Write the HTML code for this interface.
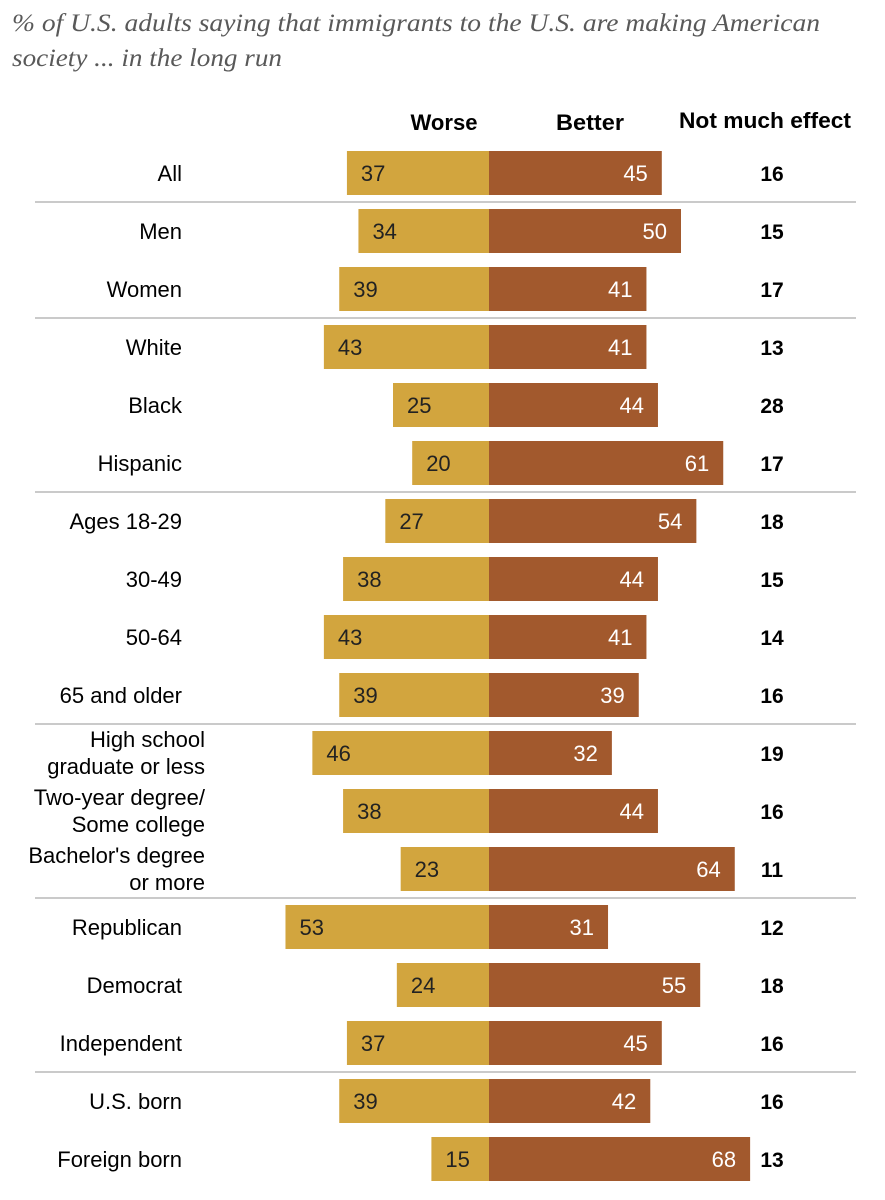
<!DOCTYPE html>
<html><head><meta charset="utf-8">
<style>
body{margin:0;background:#fff;}
svg{display:block;font-family:"Liberation Sans",Arial,sans-serif;}
</style></head>
<body>
<svg width="885" height="1200" viewBox="0 0 885 1200">
<text x="12" y="31" font-family="Liberation Serif,serif" font-style="italic" font-size="25" fill="#595959" textLength="808" lengthAdjust="spacingAndGlyphs">% of U.S. adults saying that immigrants to the U.S. are making American</text>
<text x="12" y="66" font-family="Liberation Serif,serif" font-style="italic" font-size="25" fill="#595959" textLength="270" lengthAdjust="spacingAndGlyphs">society ... in the long run</text>
<text x="444" y="130" text-anchor="middle" font-weight="bold" font-size="22" fill="#000" textLength="67" lengthAdjust="spacingAndGlyphs">Worse</text>
<text x="590" y="130" text-anchor="middle" font-weight="bold" font-size="22" fill="#000" textLength="68" lengthAdjust="spacingAndGlyphs">Better</text>
<text x="765" y="128" text-anchor="middle" font-weight="bold" font-size="22" fill="#000" textLength="172" lengthAdjust="spacingAndGlyphs">Not much effect</text>
<g id="rows"></g>
</svg>
<script>
const categories = ["All","Men","Women","White","Black","Hispanic","Ages 18-29","30-49","50-64","65 and older","High school|graduate or less","Two-year degree/|Some college","Bachelor's degree|or more","Republican","Democrat","Independent","U.S. born","Foreign born"];
const worseValues = [37,34,39,43,25,20,27,38,43,39,46,38,23,53,24,37,39,15];
const betterValues = [45,50,41,41,44,61,54,44,41,39,32,44,64,31,55,45,42,68];
const noEffectValues = [16,15,17,13,28,17,18,15,14,16,19,16,11,12,18,16,16,13];
const groupEndsAfter = [0,2,5,9,12,15];

const NS = "http://www.w3.org/2000/svg";
const g = document.getElementById("rows");
const x0 = 489, pxPerUnit = 3.84, y0 = 173, rowStep = 58, barH = 44;
const xScale = v => v * pxPerUnit;
const yScale = i => y0 + i * rowStep;
function mk(tag, attrs){const e=document.createElementNS(NS,tag);for(const k in attrs)e.setAttribute(k,attrs[k]);g.appendChild(e);return e;}

categories.forEach((cat, i) => {
  const yc = yScale(i);
  const wr = mk("rect",{x:x0-xScale(worseValues[i]),y:yc-barH/2,width:xScale(worseValues[i]),height:barH,fill:"#D2A53E"});
  
  
  const br = mk("rect",{x:x0,y:yc-barH/2,width:xScale(betterValues[i]),height:barH,fill:"#A2592D"});
  
  
  const wt = mk("text",{x:x0-xScale(worseValues[i])+14,y:yc+8,"font-size":22,fill:"#222"});
  wt.textContent = worseValues[i];
  
  
  const bt = mk("text",{x:x0+xScale(betterValues[i])-14,y:yc+8,"font-size":22,fill:"#fff","text-anchor":"end"});
  bt.textContent = betterValues[i];
  
  
  const nt = mk("text",{x:772,y:yc+8,"font-size":21,"font-weight":"bold",fill:"#000","text-anchor":"middle"});
  nt.textContent = noEffectValues[i];
  
  
  const parts = cat.split("|");
  if (parts.length === 1) {
    const lt = mk("text",{x:182,y:yc+8,"font-size":22,fill:"#000","text-anchor":"end"});
    lt.textContent = cat;
    
    
  } else {
    parts.forEach((p, j) => {
      const lt = mk("text",{x:205,y:yc-6+j*27,"font-size":22,fill:"#000","text-anchor":"end"});
      lt.textContent = p;
      
      
    });
  }
});
groupEndsAfter.forEach(i => {
  const ly = yScale(i) + rowStep/2;
  const ln = mk("line",{x1:35,x2:856,y1:ly,y2:ly,stroke:"#aaa","stroke-width":1.3});
  
  
});
</script>
</body></html>
